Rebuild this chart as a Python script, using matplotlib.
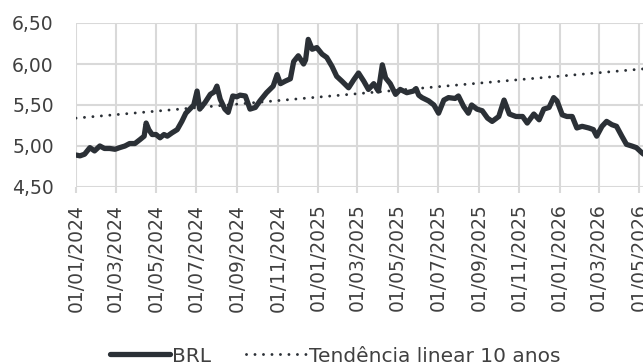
import matplotlib
matplotlib.use("Agg")
import matplotlib.pyplot as plt
import matplotlib.dates as mdates
import pandas as pd

brl_dates = [
    "2024-01-01", "2024-01-07", "2024-01-14", "2024-01-22", "2024-01-29", "2024-02-06",
    "2024-02-13", "2024-02-21", "2024-02-29", "2024-03-07", "2024-03-15", "2024-03-22",
    "2024-03-30", "2024-04-07", "2024-04-13", "2024-04-16", "2024-04-20", "2024-04-25",
    "2024-05-01", "2024-05-07", "2024-05-13", "2024-05-18", "2024-05-25", "2024-06-02",
    "2024-06-09", "2024-06-15", "2024-06-21", "2024-06-27", "2024-07-02", "2024-07-06",
    "2024-07-14", "2024-07-22", "2024-07-28", "2024-08-01", "2024-08-06", "2024-08-13",
    "2024-08-18", "2024-08-25", "2024-08-31", "2024-09-05", "2024-09-13", "2024-09-20",
    "2024-09-28", "2024-10-05", "2024-10-15", "2024-10-25", "2024-10-31", "2024-11-05",
    "2024-11-12", "2024-11-20", "2024-11-25", "2024-12-02", "2024-12-10", "2024-12-13",
    "2024-12-17", "2024-12-23", "2024-12-30", "2025-01-07", "2025-01-14", "2025-01-22",
    "2025-01-29", "2025-02-06", "2025-02-16", "2025-02-24", "2025-03-03", "2025-03-11",
    "2025-03-18", "2025-03-26", "2025-04-02", "2025-04-08", "2025-04-13", "2025-04-20",
    "2025-04-28", "2025-05-05", "2025-05-15", "2025-05-25", "2025-05-29", "2025-06-02",
    "2025-06-07", "2025-06-17", "2025-06-25", "2025-07-02", "2025-07-10", "2025-07-17",
    "2025-07-27", "2025-08-01", "2025-08-09", "2025-08-16", "2025-08-21", "2025-08-29",
    "2025-09-06", "2025-09-14", "2025-09-21", "2025-10-01", "2025-10-09", "2025-10-17",
    "2025-10-27", "2025-11-06", "2025-11-13", "2025-11-23", "2025-12-01", "2025-12-08",
    "2025-12-16", "2025-12-23", "2025-12-28", "2026-01-05", "2026-01-12", "2026-01-20",
    "2026-01-27", "2026-02-04", "2026-02-14", "2026-02-21", "2026-02-26", "2026-03-06",
    "2026-03-13", "2026-03-21", "2026-03-28", "2026-04-05", "2026-04-12", "2026-04-20",
    "2026-04-27", "2026-05-05", "2026-05-08",
]
brl_values = [
    4.89, 4.88, 4.90, 4.98, 4.94, 5.00,
    4.97, 4.97, 4.96, 4.98, 5.00, 5.03,
    5.03, 5.08, 5.12, 5.28, 5.20, 5.14,
    5.14, 5.10, 5.14, 5.12, 5.16, 5.20,
    5.30, 5.40, 5.45, 5.50, 5.67, 5.45,
    5.53, 5.63, 5.66, 5.73, 5.57, 5.45,
    5.41, 5.61, 5.60, 5.62, 5.61, 5.45,
    5.47, 5.55, 5.65, 5.73, 5.87, 5.76,
    5.79, 5.82, 6.03, 6.10, 6.00, 6.05,
    6.30, 6.18, 6.20, 6.12, 6.08, 5.97,
    5.85, 5.79, 5.71, 5.81, 5.89, 5.79,
    5.69, 5.76, 5.67, 5.99, 5.83, 5.76,
    5.63, 5.69, 5.65, 5.67, 5.70, 5.62,
    5.59, 5.55, 5.50, 5.40, 5.56, 5.59,
    5.58, 5.61, 5.48, 5.40, 5.50, 5.45,
    5.43, 5.34, 5.30, 5.36, 5.56, 5.39,
    5.36, 5.36, 5.28, 5.39, 5.32, 5.45,
    5.47, 5.59, 5.55, 5.38, 5.36, 5.36,
    5.22, 5.24, 5.22, 5.20, 5.12, 5.24,
    5.30, 5.26, 5.24, 5.12, 5.02, 5.00,
    4.98, 4.92, 4.90,
]
trend_dates = ["2024-01-01", "2026-05-07"]
trend_values = [5.34, 5.94]

y_ticks = [4.50, 5.00, 5.50, 6.00, 6.50]
x_start = "2024-01-01"
x_end = "2026-05-07"
series_labels = ["BRL", "Tendência linear 10 anos"]

plt.rcParams["font.family"] = ["DejaVu Sans"]
FS = 13.5
LEG_FS = 14.5
DARK = "#2b3036"
GRID = "#d9d9d9"
TXT = "#404040"

fig = plt.figure(figsize=(6.43, 3.64), dpi=100)
ax = fig.add_axes([76 / 643, 1 - 187 / 364, 1 - 76 / 643, 164 / 364])

bd = pd.to_datetime(brl_dates)
td = pd.to_datetime(trend_dates)
ax.plot(bd, brl_values, color=DARK, lw=3.8, solid_joinstyle="round",
        solid_capstyle="round", label=series_labels[0], zorder=3)
ax.plot(td, trend_values, color=DARK, lw=2.1, linestyle=(0, (0.01, 2.9)),
        dash_capstyle="round", label=series_labels[1], zorder=4)

ax.set_xlim(pd.Timestamp(x_start), pd.Timestamp(x_end))
ax.set_ylim(y_ticks[0], y_ticks[-1])
ax.set_yticks(y_ticks)
ax.set_yticklabels([f"{v:.2f}".replace(".", ",") for v in y_ticks], fontsize=FS, color=TXT)
ax.xaxis.set_major_locator(mdates.MonthLocator(bymonth=[1, 3, 5, 7, 9, 11], bymonthday=1))
ax.xaxis.set_major_formatter(mdates.DateFormatter("%d/%m/%Y"))
plt.setp(ax.get_xticklabels(), rotation=90, fontsize=FS, color=TXT, ha="center", va="top")

ax.grid(True, color=GRID, lw=1.5, zorder=0)
ax.set_axisbelow(True)
for s in ax.spines.values():
    s.set_visible(False)
ax.tick_params(axis="y", length=0, pad=16)
ax.tick_params(axis="x", length=4, width=1.5, color=GRID, pad=8)

leg = fig.legend(loc="center", bbox_to_anchor=(0.521, 1 - 356 / 364), ncol=2, frameon=False,
                 fontsize=LEG_FS, handlelength=3.0, handletextpad=0.1, columnspacing=1.75,
                 borderaxespad=0, borderpad=0)
for t in leg.get_texts():
    t.set_color(TXT)

fig.savefig("out.png", dpi=100)
